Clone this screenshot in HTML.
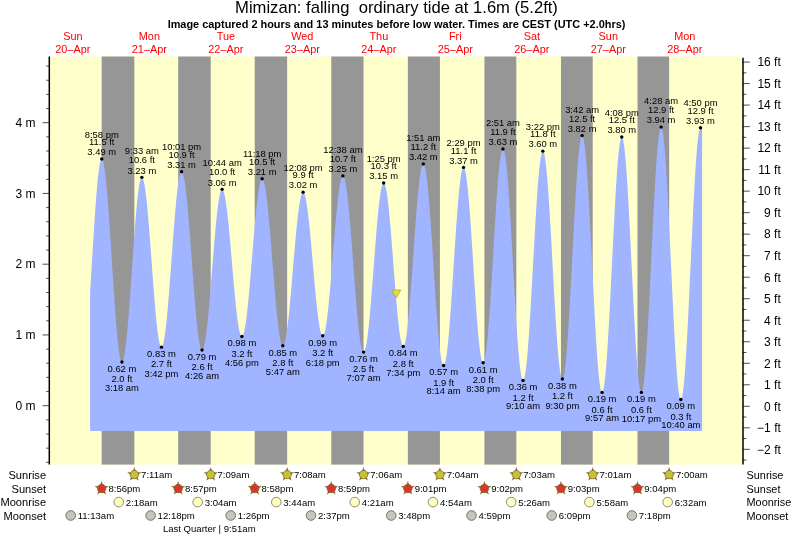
<!DOCTYPE html>
<html lang="en"><head><meta charset="utf-8"><title>Mimizan tide times</title>
<style>html,body{margin:0;padding:0;background:#fff}svg{display:block;will-change:transform}</style></head>
<body>
<svg width="793" height="537" viewBox="0 0 793 537" font-family="'Liberation Sans', Arial, Helvetica, sans-serif">
<rect width="793" height="537" fill="#fff"/>
<rect x="49.50" y="56.50" width="693.30" height="408.10" fill="#ffffcc"/>
<rect x="101.65" y="56.50" width="32.67" height="408.10" fill="#969696"/>
<rect x="178.19" y="56.50" width="32.51" height="408.10" fill="#969696"/>
<rect x="254.73" y="56.50" width="32.40" height="408.10" fill="#969696"/>
<rect x="331.28" y="56.50" width="32.24" height="408.10" fill="#969696"/>
<rect x="407.87" y="56.50" width="32.03" height="408.10" fill="#969696"/>
<rect x="484.41" y="56.50" width="31.92" height="408.10" fill="#969696"/>
<rect x="560.96" y="56.50" width="31.76" height="408.10" fill="#969696"/>
<rect x="637.50" y="56.50" width="31.66" height="408.10" fill="#969696"/>
<path d="M90.10 431.00 L90.10 291.64 L90.60 283.74 L91.10 275.69 L91.60 267.54 L92.10 259.34 L92.60 251.15 L93.10 243.02 L93.60 235.01 L94.10 227.16 L94.60 219.53 L95.10 212.16 L95.60 205.11 L96.10 198.42 L96.60 192.14 L97.10 186.30 L97.60 180.94 L98.10 176.11 L98.60 171.82 L99.10 168.12 L99.60 165.01 L100.10 162.53 L100.60 160.69 L101.10 159.50 L101.60 158.96 L101.75 158.93 L102.10 159.08 L102.60 159.81 L103.10 161.16 L103.60 163.10 L104.10 165.63 L104.60 168.74 L105.10 172.40 L105.60 176.60 L106.10 181.30 L106.60 186.48 L107.10 192.11 L107.60 198.16 L108.10 204.58 L108.60 211.34 L109.10 218.39 L109.60 225.70 L110.10 233.22 L110.60 240.91 L111.10 248.71 L111.60 256.59 L112.10 264.49 L112.60 272.36 L113.10 280.16 L113.60 287.85 L114.10 295.37 L114.60 302.67 L115.10 309.72 L115.60 316.47 L116.10 322.89 L116.60 328.92 L117.10 334.54 L117.60 339.72 L118.10 344.41 L118.60 348.59 L119.10 352.24 L119.60 355.34 L120.10 357.86 L120.60 359.79 L121.10 361.12 L121.60 361.85 L121.94 361.99 L122.10 361.95 L122.60 361.48 L123.10 360.44 L123.60 358.83 L124.10 356.67 L124.60 353.96 L125.10 350.74 L125.60 347.00 L126.10 342.79 L126.60 338.13 L127.10 333.03 L127.60 327.55 L128.10 321.70 L128.60 315.53 L129.10 309.08 L129.60 302.38 L130.10 295.47 L130.60 288.41 L131.10 281.23 L131.60 273.98 L132.10 266.70 L132.60 259.44 L133.10 252.24 L133.60 245.15 L134.10 238.22 L134.60 231.48 L135.10 224.97 L135.60 218.75 L136.10 212.84 L136.60 207.28 L137.10 202.11 L137.60 197.36 L138.10 193.06 L138.60 189.24 L139.10 185.92 L139.60 183.11 L140.10 180.85 L140.60 179.13 L141.10 177.98 L141.60 177.40 L141.86 177.33 L142.10 177.39 L142.60 177.93 L143.10 179.01 L143.60 180.62 L144.10 182.76 L144.60 185.40 L145.10 188.54 L145.60 192.16 L146.10 196.22 L146.60 200.70 L147.10 205.59 L147.60 210.83 L148.10 216.41 L148.60 222.27 L149.10 228.40 L149.60 234.74 L150.10 241.26 L150.60 247.91 L151.10 254.66 L151.60 261.45 L152.10 268.25 L152.60 275.01 L153.10 281.69 L153.60 288.24 L154.10 294.63 L154.60 300.81 L155.10 306.74 L155.60 312.38 L156.10 317.71 L156.60 322.67 L157.10 327.25 L157.60 331.41 L158.10 335.13 L158.60 338.38 L159.10 341.14 L159.60 343.39 L160.10 345.13 L160.60 346.33 L161.10 346.99 L161.46 347.13 L161.60 347.11 L162.10 346.69 L162.60 345.74 L163.10 344.26 L163.60 342.27 L164.10 339.77 L164.60 336.79 L165.10 333.33 L165.60 329.42 L166.10 325.09 L166.60 320.36 L167.10 315.26 L167.60 309.81 L168.10 304.06 L168.60 298.04 L169.10 291.79 L169.60 285.33 L170.10 278.72 L170.60 271.99 L171.10 265.19 L171.60 258.34 L172.10 251.51 L172.60 244.72 L173.10 238.03 L173.60 231.46 L174.10 225.06 L174.60 218.87 L175.10 212.93 L175.60 207.27 L176.10 201.93 L176.60 196.94 L177.10 192.33 L177.60 188.12 L178.10 184.35 L178.60 181.04 L179.10 178.20 L179.60 175.86 L180.10 174.03 L180.60 172.71 L181.10 171.92 L181.59 171.67 L181.60 171.67 L182.10 171.94 L182.60 172.74 L183.10 174.06 L183.60 175.89 L184.10 178.22 L184.60 181.04 L185.10 184.32 L185.60 188.06 L186.10 192.23 L186.60 196.80 L187.10 201.75 L187.60 207.05 L188.10 212.66 L188.60 218.56 L189.10 224.71 L189.60 231.07 L190.10 237.61 L190.60 244.28 L191.10 251.05 L191.60 257.88 L192.10 264.73 L192.60 271.55 L193.10 278.31 L193.60 284.96 L194.10 291.48 L194.60 297.81 L195.10 303.92 L195.60 309.78 L196.10 315.36 L196.60 320.61 L197.10 325.50 L197.60 330.02 L198.10 334.13 L198.60 337.80 L199.10 341.02 L199.60 343.77 L200.10 346.03 L200.60 347.79 L201.10 349.03 L201.60 349.75 L202.04 349.96 L202.10 349.95 L202.60 349.65 L203.10 348.85 L203.60 347.58 L204.10 345.82 L204.60 343.60 L205.10 340.92 L205.60 337.82 L206.10 334.29 L206.60 330.37 L207.10 326.07 L207.60 321.43 L208.10 316.48 L208.60 311.24 L209.10 305.74 L209.60 300.02 L210.10 294.12 L210.60 288.07 L211.10 281.91 L211.60 275.67 L212.10 269.39 L212.60 263.11 L213.10 256.88 L213.60 250.72 L214.10 244.68 L214.60 238.79 L215.10 233.09 L215.60 227.62 L216.10 222.40 L216.60 217.47 L217.10 212.86 L217.60 208.60 L218.10 204.71 L218.60 201.22 L219.10 198.14 L219.60 195.51 L220.10 193.32 L220.60 191.61 L221.10 190.37 L221.60 189.62 L222.10 189.36 L222.12 189.36 L222.60 189.57 L223.10 190.25 L223.60 191.39 L224.10 192.98 L224.60 195.01 L225.10 197.47 L225.60 200.34 L226.10 203.61 L226.60 207.26 L227.10 211.25 L227.60 215.58 L228.10 220.20 L228.60 225.09 L229.10 230.22 L229.60 235.56 L230.10 241.07 L230.60 246.72 L231.10 252.47 L231.60 258.28 L232.10 264.13 L232.60 269.97 L233.10 275.76 L233.60 281.47 L234.10 287.07 L234.60 292.51 L235.10 297.77 L235.60 302.81 L236.10 307.59 L236.60 312.09 L237.10 316.29 L237.60 320.14 L238.10 323.64 L238.60 326.75 L239.10 329.45 L239.60 331.74 L240.10 333.59 L240.60 335.00 L241.10 335.95 L241.60 336.44 L241.88 336.52 L242.10 336.47 L242.60 336.02 L243.10 335.11 L243.60 333.73 L244.10 331.89 L244.60 329.61 L245.10 326.90 L245.60 323.77 L246.10 320.25 L246.60 316.35 L247.10 312.11 L247.60 307.53 L248.10 302.66 L248.60 297.51 L249.10 292.13 L249.60 286.54 L250.10 280.78 L250.60 274.87 L251.10 268.87 L251.60 262.80 L252.10 256.69 L252.60 250.60 L253.10 244.54 L253.60 238.56 L254.10 232.70 L254.60 226.99 L255.10 221.46 L255.60 216.14 L256.10 211.08 L256.60 206.29 L257.10 201.82 L257.60 197.67 L258.10 193.89 L258.60 190.48 L259.10 187.48 L259.60 184.90 L260.10 182.76 L260.60 181.06 L261.10 179.82 L261.60 179.05 L262.10 178.75 L262.17 178.74 L262.60 178.92 L263.10 179.58 L263.60 180.71 L264.10 182.31 L264.60 184.38 L265.10 186.90 L265.60 189.85 L266.10 193.21 L266.60 196.98 L267.10 201.13 L267.60 205.62 L268.10 210.45 L268.60 215.57 L269.10 220.96 L269.60 226.59 L270.10 232.43 L270.60 238.44 L271.10 244.58 L271.60 250.83 L272.10 257.15 L272.60 263.49 L273.10 269.83 L273.60 276.12 L274.10 282.33 L274.60 288.43 L275.10 294.37 L275.60 300.13 L276.10 305.67 L276.60 310.96 L277.10 315.97 L277.60 320.66 L278.10 325.02 L278.60 329.02 L279.10 332.63 L279.60 335.83 L280.10 338.61 L280.60 340.95 L281.10 342.83 L281.60 344.25 L282.10 345.20 L282.60 345.66 L282.83 345.71 L283.10 345.65 L283.60 345.17 L284.10 344.23 L284.60 342.84 L285.10 341.00 L285.60 338.73 L286.10 336.04 L286.60 332.95 L287.10 329.47 L287.60 325.63 L288.10 321.44 L288.60 316.94 L289.10 312.15 L289.60 307.10 L290.10 301.82 L290.60 296.35 L291.10 290.70 L291.60 284.93 L292.10 279.06 L292.60 273.13 L293.10 267.17 L293.60 261.23 L294.10 255.33 L294.60 249.51 L295.10 243.81 L295.60 238.26 L296.10 232.90 L296.60 227.75 L297.10 222.86 L297.60 218.23 L298.10 213.92 L298.60 209.94 L299.10 206.31 L299.60 203.05 L300.10 200.20 L300.60 197.76 L301.10 195.75 L301.60 194.17 L302.10 193.05 L302.60 192.39 L303.07 192.19 L303.10 192.19 L303.60 192.44 L304.10 193.16 L304.60 194.32 L305.10 195.93 L305.60 197.98 L306.10 200.44 L306.60 203.32 L307.10 206.58 L307.60 210.20 L308.10 214.17 L308.60 218.46 L309.10 223.04 L309.60 227.88 L310.10 232.95 L310.60 238.22 L311.10 243.65 L311.60 249.22 L312.10 254.87 L312.60 260.59 L313.10 266.33 L313.60 272.05 L314.10 277.72 L314.60 283.31 L315.10 288.77 L315.60 294.07 L316.10 299.18 L316.60 304.07 L317.10 308.70 L317.60 313.04 L318.10 317.07 L318.60 320.76 L319.10 324.09 L319.60 327.04 L320.10 329.58 L320.60 331.71 L321.10 333.40 L321.60 334.65 L322.10 335.45 L322.60 335.79 L322.72 335.81 L323.10 335.67 L323.60 335.06 L324.10 333.98 L324.60 332.42 L325.10 330.40 L325.60 327.93 L326.10 325.02 L326.60 321.69 L327.10 317.97 L327.60 313.87 L328.10 309.41 L328.60 304.64 L329.10 299.56 L329.60 294.23 L330.10 288.66 L330.60 282.89 L331.10 276.96 L331.60 270.90 L332.10 264.75 L332.60 258.55 L333.10 252.33 L333.60 246.13 L334.10 239.99 L334.60 233.95 L335.10 228.04 L335.60 222.29 L336.10 216.75 L336.60 211.45 L337.10 206.42 L337.60 201.68 L338.10 197.28 L338.60 193.22 L339.10 189.55 L339.60 186.28 L340.10 183.43 L340.60 181.02 L341.10 179.06 L341.60 177.56 L342.10 176.54 L342.60 176.00 L342.91 175.91 L343.10 175.95 L343.60 176.40 L344.10 177.35 L344.60 178.81 L345.10 180.76 L345.60 183.19 L346.10 186.08 L346.60 189.43 L347.10 193.20 L347.60 197.39 L348.10 201.96 L348.60 206.88 L349.10 212.14 L349.60 217.70 L350.10 223.52 L350.60 229.58 L351.10 235.84 L351.60 242.26 L352.10 248.81 L352.60 255.44 L353.10 262.12 L353.60 268.82 L354.10 275.48 L354.60 282.08 L355.10 288.58 L355.60 294.93 L356.10 301.10 L356.60 307.06 L357.10 312.77 L357.60 318.20 L358.10 323.32 L358.60 328.09 L359.10 332.50 L359.60 336.50 L360.10 340.09 L360.60 343.24 L361.10 345.93 L361.60 348.15 L362.10 349.88 L362.60 351.12 L363.10 351.85 L363.57 352.08 L363.60 352.08 L364.10 351.79 L364.60 350.99 L365.10 349.67 L365.60 347.86 L366.10 345.55 L366.60 342.76 L367.10 339.52 L367.60 335.83 L368.10 331.73 L368.60 327.23 L369.10 322.37 L369.60 317.18 L370.10 311.67 L370.60 305.90 L371.10 299.90 L371.60 293.70 L372.10 287.33 L372.60 280.85 L373.10 274.28 L373.60 267.68 L374.10 261.07 L374.60 254.50 L375.10 248.01 L375.60 241.64 L376.10 235.43 L376.60 229.42 L377.10 223.63 L377.60 218.12 L378.10 212.91 L378.60 208.04 L379.10 203.52 L379.60 199.40 L380.10 195.70 L380.60 192.43 L381.10 189.63 L381.60 187.30 L382.10 185.46 L382.60 184.13 L383.10 183.30 L383.60 182.99 L383.65 182.99 L384.10 183.20 L384.60 183.93 L385.10 185.18 L385.60 186.95 L386.10 189.21 L386.60 191.95 L387.10 195.17 L387.60 198.82 L388.10 202.91 L388.60 207.38 L389.10 212.23 L389.60 217.41 L390.10 222.90 L390.60 228.66 L391.10 234.64 L391.60 240.82 L392.10 247.16 L392.60 253.60 L393.10 260.12 L393.60 266.66 L394.10 273.20 L394.60 279.68 L395.10 286.06 L395.60 292.31 L396.10 298.37 L396.60 304.23 L397.10 309.83 L397.60 315.13 L398.10 320.12 L398.60 324.75 L399.10 328.99 L399.60 332.83 L400.10 336.22 L400.60 339.16 L401.10 341.61 L401.60 343.58 L402.10 345.03 L402.60 345.98 L403.10 346.40 L403.25 346.42 L403.60 346.28 L404.10 345.61 L404.60 344.38 L405.10 342.61 L405.60 340.29 L406.10 337.45 L406.60 334.11 L407.10 330.28 L407.60 325.99 L408.10 321.26 L408.60 316.12 L409.10 310.61 L409.60 304.76 L410.10 298.61 L410.60 292.19 L411.10 285.54 L411.60 278.70 L412.10 271.72 L412.60 264.63 L413.10 257.49 L413.60 250.33 L414.10 243.21 L414.60 236.15 L415.10 229.22 L415.60 222.44 L416.10 215.86 L416.60 209.53 L417.10 203.48 L417.60 197.74 L418.10 192.36 L418.60 187.36 L419.10 182.78 L419.60 178.65 L420.10 174.98 L420.60 171.81 L421.10 169.15 L421.60 167.02 L422.10 165.43 L422.60 164.40 L423.10 163.92 L423.28 163.89 L423.60 164.01 L424.10 164.70 L424.60 165.98 L425.10 167.86 L425.60 170.31 L426.10 173.32 L426.60 176.88 L427.10 180.96 L427.60 185.54 L428.10 190.59 L428.60 196.08 L429.10 201.98 L429.60 208.26 L430.10 214.87 L430.60 221.78 L431.10 228.94 L431.60 236.32 L432.10 243.87 L432.60 251.54 L433.10 259.29 L433.60 267.07 L434.10 274.83 L434.60 282.54 L435.10 290.14 L435.60 297.59 L436.10 304.84 L436.60 311.86 L437.10 318.59 L437.60 325.00 L438.10 331.06 L438.60 336.71 L439.10 341.94 L439.60 346.71 L440.10 350.99 L440.60 354.75 L441.10 357.98 L441.60 360.66 L442.10 362.76 L442.60 364.27 L443.10 365.20 L443.60 365.52 L443.62 365.52 L444.10 365.24 L444.60 364.34 L445.10 362.84 L445.60 360.73 L446.10 358.04 L446.60 354.78 L447.10 350.98 L447.60 346.64 L448.10 341.81 L448.60 336.51 L449.10 330.78 L449.60 324.64 L450.10 318.15 L450.60 311.33 L451.10 304.23 L451.60 296.90 L452.10 289.38 L452.60 281.72 L453.10 273.96 L453.60 266.16 L454.10 258.36 L454.60 250.61 L455.10 242.95 L455.60 235.45 L456.10 228.13 L456.60 221.06 L457.10 214.26 L457.60 207.80 L458.10 201.69 L458.60 195.99 L459.10 190.73 L459.60 185.93 L460.10 181.64 L460.60 177.88 L461.10 174.66 L461.60 172.02 L462.10 169.96 L462.60 168.51 L463.10 167.66 L463.54 167.42 L463.60 167.43 L464.10 167.82 L464.60 168.83 L465.10 170.46 L465.60 172.70 L466.10 175.53 L466.60 178.94 L467.10 182.89 L467.60 187.38 L468.10 192.36 L468.60 197.82 L469.10 203.70 L469.60 209.97 L470.10 216.60 L470.60 223.55 L471.10 230.75 L471.60 238.18 L472.10 245.78 L472.60 253.51 L473.10 261.30 L473.60 269.13 L474.10 276.92 L474.60 284.64 L475.10 292.24 L475.60 299.66 L476.10 306.86 L476.60 313.79 L477.10 320.40 L477.60 326.66 L478.10 332.53 L478.60 337.96 L479.10 342.93 L479.60 347.39 L480.10 351.33 L480.60 354.71 L481.10 357.52 L481.60 359.73 L482.10 361.34 L482.60 362.33 L483.10 362.69 L483.14 362.69 L483.60 362.41 L484.10 361.46 L484.60 359.84 L485.10 357.58 L485.60 354.67 L486.10 351.14 L486.60 347.02 L487.10 342.32 L487.60 337.08 L488.10 331.32 L488.60 325.10 L489.10 318.44 L489.60 311.38 L490.10 303.98 L490.60 296.27 L491.10 288.31 L491.60 280.15 L492.10 271.84 L492.60 263.42 L493.10 254.96 L493.60 246.50 L494.10 238.10 L494.60 229.81 L495.10 221.69 L495.60 213.78 L496.10 206.13 L496.60 198.80 L497.10 191.83 L497.60 185.26 L498.10 179.13 L498.60 173.48 L499.10 168.35 L499.60 163.78 L500.10 159.78 L500.60 156.38 L501.10 153.61 L501.60 151.48 L502.10 150.00 L502.60 149.19 L502.95 149.03 L503.10 149.06 L503.60 149.62 L504.10 150.87 L504.60 152.83 L505.10 155.46 L505.60 158.76 L506.10 162.70 L506.60 167.26 L507.10 172.41 L507.60 178.13 L508.10 184.37 L508.60 191.11 L509.10 198.29 L509.60 205.87 L510.10 213.81 L510.60 222.07 L511.10 230.58 L511.60 239.30 L512.10 248.17 L512.60 257.14 L513.10 266.16 L513.60 275.18 L514.10 284.12 L514.60 292.95 L515.10 301.61 L515.60 310.04 L516.10 318.20 L516.60 326.03 L517.10 333.49 L517.60 340.53 L518.10 347.11 L518.60 353.19 L519.10 358.73 L519.60 363.69 L520.10 368.06 L520.60 371.79 L521.10 374.87 L521.60 377.29 L522.10 379.02 L522.60 380.05 L523.08 380.38 L523.10 380.38 L523.60 380.00 L524.10 378.89 L524.60 377.07 L525.10 374.55 L525.60 371.34 L526.10 367.46 L526.60 362.94 L527.10 357.81 L527.60 352.10 L528.10 345.84 L528.60 339.07 L529.10 331.84 L529.60 324.20 L530.10 316.18 L530.60 307.85 L531.10 299.25 L531.60 290.44 L532.10 281.48 L532.60 272.41 L533.10 263.30 L533.60 254.21 L534.10 245.19 L534.60 236.30 L535.10 227.60 L535.60 219.14 L536.10 210.97 L536.60 203.15 L537.10 195.73 L537.60 188.74 L538.10 182.25 L538.60 176.28 L539.10 170.87 L539.60 166.07 L540.10 161.89 L540.60 158.37 L541.10 155.53 L541.60 153.39 L542.10 151.95 L542.60 151.24 L542.84 151.15 L543.10 151.25 L543.60 151.99 L544.10 153.46 L544.60 155.65 L545.10 158.55 L545.60 162.14 L546.10 166.39 L546.60 171.27 L547.10 176.76 L547.60 182.83 L548.10 189.42 L548.60 196.50 L549.10 204.02 L549.60 211.94 L550.10 220.20 L550.60 228.75 L551.10 237.53 L551.60 246.49 L552.10 255.58 L552.60 264.72 L553.10 273.86 L553.60 282.95 L554.10 291.92 L554.60 300.72 L555.10 309.29 L555.60 317.57 L556.10 325.52 L556.60 333.07 L557.10 340.19 L557.60 346.82 L558.10 352.92 L558.60 358.46 L559.10 363.39 L559.60 367.69 L560.10 371.32 L560.60 374.27 L561.10 376.52 L561.60 378.04 L562.10 378.84 L562.39 378.97 L562.60 378.90 L563.10 378.20 L563.60 376.73 L564.10 374.51 L564.60 371.55 L565.10 367.86 L565.60 363.48 L566.10 358.43 L566.60 352.74 L567.10 346.44 L567.60 339.58 L568.10 332.21 L568.60 324.35 L569.10 316.08 L569.60 307.43 L570.10 298.47 L570.60 289.25 L571.10 279.82 L571.60 270.26 L572.10 260.61 L572.60 250.94 L573.10 241.31 L573.60 231.78 L574.10 222.41 L574.60 213.26 L575.10 204.39 L575.60 195.85 L576.10 187.71 L576.60 180.00 L577.10 172.78 L577.60 166.09 L578.10 159.98 L578.60 154.48 L579.10 149.63 L579.60 145.47 L580.10 142.01 L580.60 139.27 L581.10 137.28 L581.60 136.05 L582.10 135.59 L582.15 135.59 L582.60 135.91 L583.10 137.02 L583.60 138.92 L584.10 141.60 L584.60 145.04 L585.10 149.21 L585.60 154.11 L586.10 159.68 L586.60 165.91 L587.10 172.74 L587.60 180.14 L588.10 188.06 L588.60 196.45 L589.10 205.27 L589.60 214.45 L590.10 223.93 L590.60 233.67 L591.10 243.59 L591.60 253.64 L592.10 263.76 L592.60 273.87 L593.10 283.93 L593.60 293.86 L594.10 303.60 L594.60 313.10 L595.10 322.30 L595.60 331.13 L596.10 339.54 L596.60 347.49 L597.10 354.92 L597.60 361.78 L598.10 368.03 L598.60 373.64 L599.10 378.56 L599.60 382.78 L600.10 386.25 L600.60 388.96 L601.10 390.90 L601.60 392.05 L602.07 392.41 L602.10 392.41 L602.60 391.95 L603.10 390.69 L603.60 388.63 L604.10 385.79 L604.60 382.17 L605.10 377.81 L605.60 372.73 L606.10 366.97 L606.60 360.55 L607.10 353.53 L607.60 345.94 L608.10 337.83 L608.60 329.27 L609.10 320.29 L609.60 310.96 L610.10 301.33 L610.60 291.48 L611.10 281.45 L611.60 271.31 L612.10 261.14 L612.60 250.99 L613.10 240.92 L613.60 231.01 L614.10 221.30 L614.60 211.88 L615.10 202.79 L615.60 194.09 L616.10 185.84 L616.60 178.10 L617.10 170.90 L617.60 164.30 L618.10 158.33 L618.60 153.04 L619.10 148.46 L619.60 144.62 L620.10 141.54 L620.60 139.25 L621.10 137.75 L621.60 137.05 L621.78 137.00 L622.10 137.17 L622.60 138.11 L623.10 139.85 L623.60 142.41 L624.10 145.74 L624.60 149.84 L625.10 154.68 L625.60 160.22 L626.10 166.43 L626.60 173.28 L627.10 180.71 L627.60 188.68 L628.10 197.14 L628.60 206.03 L629.10 215.30 L629.60 224.88 L630.10 234.72 L630.60 244.76 L631.10 254.92 L631.60 265.14 L632.10 275.36 L632.60 285.52 L633.10 295.54 L633.60 305.36 L634.10 314.92 L634.60 324.16 L635.10 333.02 L635.60 341.43 L636.10 349.36 L636.60 356.74 L637.10 363.53 L637.60 369.69 L638.10 375.17 L638.60 379.95 L639.10 383.98 L639.60 387.25 L640.10 389.73 L640.60 391.41 L641.10 392.28 L641.38 392.41 L641.60 392.33 L642.10 391.53 L642.60 389.90 L643.10 387.45 L643.60 384.18 L644.10 380.12 L644.60 375.30 L645.10 369.74 L645.60 363.49 L646.10 356.58 L646.60 349.05 L647.10 340.95 L647.60 332.34 L648.10 323.27 L648.60 313.80 L649.10 303.98 L649.60 293.88 L650.10 283.57 L650.60 273.10 L651.10 262.55 L651.60 251.98 L652.10 241.46 L652.60 231.06 L653.10 220.83 L653.60 210.86 L654.10 201.20 L654.60 191.90 L655.10 183.04 L655.60 174.67 L656.10 166.83 L656.60 159.59 L657.10 152.98 L657.60 147.05 L658.10 141.84 L658.60 137.37 L659.10 133.69 L659.60 130.80 L660.10 128.73 L660.60 127.49 L661.09 127.10 L661.10 127.10 L661.60 127.55 L662.10 128.86 L662.60 131.02 L663.10 134.02 L663.60 137.83 L664.10 142.44 L664.60 147.81 L665.10 153.91 L665.60 160.69 L666.10 168.13 L666.60 176.17 L667.10 184.76 L667.60 193.84 L668.10 203.36 L668.60 213.27 L669.10 223.48 L669.60 233.95 L670.10 244.60 L670.60 255.38 L671.10 266.20 L671.60 277.00 L672.10 287.72 L672.60 298.28 L673.10 308.62 L673.60 318.68 L674.10 328.38 L674.60 337.68 L675.10 346.50 L675.60 354.80 L676.10 362.52 L676.60 369.62 L677.10 376.04 L677.60 381.75 L678.10 386.71 L678.60 390.89 L679.10 394.27 L679.60 396.82 L680.10 398.53 L680.60 399.38 L680.85 399.48 L681.10 399.37 L681.60 398.50 L682.10 396.76 L682.60 394.18 L683.10 390.76 L683.60 386.53 L684.10 381.51 L684.60 375.75 L685.10 369.26 L685.60 362.11 L686.10 354.32 L686.60 345.96 L687.10 337.06 L687.60 327.71 L688.10 317.94 L688.60 307.82 L689.10 297.43 L689.60 286.81 L690.10 276.05 L690.60 265.21 L691.10 254.36 L691.60 243.57 L692.10 232.91 L692.60 222.45 L693.10 212.24 L693.60 202.37 L694.10 192.88 L694.60 183.85 L695.10 175.33 L695.60 167.37 L696.10 160.03 L696.60 153.34 L697.10 147.37 L697.60 142.13 L698.10 137.67 L698.60 134.01 L699.10 131.19 L699.60 129.20 L700.10 128.08 L700.50 127.80 L700.60 127.80 L701.10 127.80 L701.60 127.80 L702.10 127.80 L702.10 431.00 Z" fill="#a0b4ff"/>
<g stroke="#000" fill="none">
<path d="M49.30 56.50 V464.60 M743.00 57.70 V464.60" stroke-width="1.5"/>
<path d="M49.50 462.30 h-3.30 M49.50 448.15 h-3.30 M49.50 434.00 h-3.30 M49.50 419.85 h-3.30 M49.50 405.70 h-7.00 M49.50 391.55 h-3.30 M49.50 377.40 h-3.30 M49.50 363.25 h-3.30 M49.50 349.10 h-3.30 M49.50 334.95 h-7.00 M49.50 320.80 h-3.30 M49.50 306.65 h-3.30 M49.50 292.50 h-3.30 M49.50 278.35 h-3.30 M49.50 264.20 h-7.00 M49.50 250.05 h-3.30 M49.50 235.90 h-3.30 M49.50 221.75 h-3.30 M49.50 207.60 h-3.30 M49.50 193.45 h-7.00 M49.50 179.30 h-3.30 M49.50 165.15 h-3.30 M49.50 151.00 h-3.30 M49.50 136.85 h-3.30 M49.50 122.70 h-7.00 M49.50 108.55 h-3.30 M49.50 94.40 h-3.30 M49.50 80.25 h-3.30 M49.50 66.10 h-3.30 M742.80 460.09 h3.60 M742.80 449.33 h7.00 M742.80 438.57 h3.60 M742.80 427.81 h7.00 M742.80 417.06 h3.60 M742.80 406.30 h7.00 M742.80 395.54 h3.60 M742.80 384.79 h7.00 M742.80 374.03 h3.60 M742.80 363.27 h7.00 M742.80 352.51 h3.60 M742.80 341.75 h7.00 M742.80 331.00 h3.60 M742.80 320.24 h7.00 M742.80 309.48 h3.60 M742.80 298.73 h7.00 M742.80 287.97 h3.60 M742.80 277.21 h7.00 M742.80 266.45 h3.60 M742.80 255.69 h7.00 M742.80 244.94 h3.60 M742.80 234.18 h7.00 M742.80 223.42 h3.60 M742.80 212.67 h7.00 M742.80 201.91 h3.60 M742.80 191.15 h7.00 M742.80 180.39 h3.60 M742.80 169.63 h7.00 M742.80 158.88 h3.60 M742.80 148.12 h7.00 M742.80 137.36 h3.60 M742.80 126.61 h7.00 M742.80 115.85 h3.60 M742.80 105.09 h7.00 M742.80 94.33 h3.60 M742.80 83.57 h7.00 M742.80 72.82 h3.60 M742.80 62.06 h7.00" stroke-width="0.7"/>
</g>
<g font-size="12" fill="#000">
<text x="35.4" y="409.90" text-anchor="end">0 m</text>
<text x="35.4" y="339.15" text-anchor="end">1 m</text>
<text x="35.4" y="268.40" text-anchor="end">2 m</text>
<text x="35.4" y="197.65" text-anchor="end">3 m</text>
<text x="35.4" y="126.90" text-anchor="end">4 m</text>
<text x="780.8" y="453.63" text-anchor="end">−2 ft</text>
<text x="780.8" y="432.12" text-anchor="end">−1 ft</text>
<text x="780.8" y="410.60" text-anchor="end">0 ft</text>
<text x="780.8" y="389.09" text-anchor="end">1 ft</text>
<text x="780.8" y="367.57" text-anchor="end">2 ft</text>
<text x="780.8" y="346.06" text-anchor="end">3 ft</text>
<text x="780.8" y="324.54" text-anchor="end">4 ft</text>
<text x="780.8" y="303.03" text-anchor="end">5 ft</text>
<text x="780.8" y="281.51" text-anchor="end">6 ft</text>
<text x="780.8" y="260.00" text-anchor="end">7 ft</text>
<text x="780.8" y="238.48" text-anchor="end">8 ft</text>
<text x="780.8" y="216.97" text-anchor="end">9 ft</text>
<text x="780.8" y="195.45" text-anchor="end">10 ft</text>
<text x="780.8" y="173.94" text-anchor="end">11 ft</text>
<text x="780.8" y="152.42" text-anchor="end">12 ft</text>
<text x="780.8" y="130.91" text-anchor="end">13 ft</text>
<text x="780.8" y="109.39" text-anchor="end">14 ft</text>
<text x="780.8" y="87.87" text-anchor="end">15 ft</text>
<text x="780.8" y="66.36" text-anchor="end">16 ft</text>
</g>
<text x="396.5" y="13.3" font-size="16.6" text-anchor="middle" xml:space="preserve" style="white-space:pre">Mimizan: falling  ordinary tide at 1.6m (5.2ft)</text>
<text x="396.5" y="27.9" font-size="10.93" font-weight="bold" text-anchor="middle">Image captured 2 hours and 13 minutes before low water. Times are CEST (UTC +2.0hrs)</text>
<g font-size="10.9" fill="#ff0000" text-anchor="middle">
<text x="72.88" y="40">Sun</text>
<text x="72.88" y="52.6">20–Apr</text>
<text x="149.36" y="40">Mon</text>
<text x="149.36" y="52.6">21–Apr</text>
<text x="225.85" y="40">Tue</text>
<text x="225.85" y="52.6">22–Apr</text>
<text x="302.34" y="40">Wed</text>
<text x="302.34" y="52.6">23–Apr</text>
<text x="378.83" y="40">Thu</text>
<text x="378.83" y="52.6">24–Apr</text>
<text x="455.32" y="40">Fri</text>
<text x="455.32" y="52.6">25–Apr</text>
<text x="531.81" y="40">Sat</text>
<text x="531.81" y="52.6">26–Apr</text>
<text x="608.30" y="40">Sun</text>
<text x="608.30" y="52.6">27–Apr</text>
<text x="684.79" y="40">Mon</text>
<text x="684.79" y="52.6">28–Apr</text>
</g>
<g font-size="9.42" fill="#000" text-anchor="middle">
<circle cx="101.75" cy="158.93" r="1.7"/>
<text x="101.75" y="137.53">8:58 pm</text>
<text x="101.75" y="145.03">11.5 ft</text>
<text x="101.75" y="155.23">3.49 m</text>
<circle cx="121.94" cy="361.99" r="1.7"/>
<text x="121.94" y="371.88">0.62 m</text>
<text x="121.94" y="382.19">2.0 ft</text>
<text x="121.94" y="390.79">3:18 am</text>
<circle cx="141.86" cy="177.33" r="1.7"/>
<text x="141.86" y="154.43">9:33 am</text>
<text x="141.86" y="163.43">10.6 ft</text>
<text x="141.86" y="173.63">3.23 m</text>
<circle cx="161.46" cy="347.13" r="1.7"/>
<text x="161.46" y="357.03">0.83 m</text>
<text x="161.46" y="367.33">2.7 ft</text>
<text x="161.46" y="376.93">3:42 pm</text>
<circle cx="181.59" cy="171.67" r="1.7"/>
<text x="181.59" y="150.27">10:01 pm</text>
<text x="181.59" y="157.77">10.9 ft</text>
<text x="181.59" y="167.97">3.31 m</text>
<circle cx="202.04" cy="349.96" r="1.7"/>
<text x="202.04" y="359.86">0.79 m</text>
<text x="202.04" y="370.16">2.6 ft</text>
<text x="202.04" y="378.76">4:26 am</text>
<circle cx="222.12" cy="189.36" r="1.7"/>
<text x="222.12" y="166.46">10:44 am</text>
<text x="222.12" y="175.46">10.0 ft</text>
<text x="222.12" y="185.66">3.06 m</text>
<circle cx="241.88" cy="336.52" r="1.7"/>
<text x="241.88" y="346.42">0.98 m</text>
<text x="241.88" y="356.72">3.2 ft</text>
<text x="241.88" y="366.32">4:56 pm</text>
<circle cx="262.17" cy="178.74" r="1.7"/>
<text x="262.17" y="157.34">11:18 pm</text>
<text x="262.17" y="164.84">10.5 ft</text>
<text x="262.17" y="175.04">3.21 m</text>
<circle cx="282.83" cy="345.71" r="1.7"/>
<text x="282.83" y="355.61">0.85 m</text>
<text x="282.83" y="365.91">2.8 ft</text>
<text x="282.83" y="374.51">5:47 am</text>
<circle cx="303.07" cy="192.19" r="1.7"/>
<text x="303.07" y="170.79">12:08 pm</text>
<text x="303.07" y="178.29">9.9 ft</text>
<text x="303.07" y="188.49">3.02 m</text>
<circle cx="322.72" cy="335.81" r="1.7"/>
<text x="322.72" y="345.71">0.99 m</text>
<text x="322.72" y="356.01">3.2 ft</text>
<text x="322.72" y="365.61">6:18 pm</text>
<circle cx="342.91" cy="175.91" r="1.7"/>
<text x="342.91" y="153.01">12:38 am</text>
<text x="342.91" y="162.01">10.7 ft</text>
<text x="342.91" y="172.21">3.25 m</text>
<circle cx="363.57" cy="352.08" r="1.7"/>
<text x="363.57" y="361.98">0.76 m</text>
<text x="363.57" y="372.28">2.5 ft</text>
<text x="363.57" y="380.88">7:07 am</text>
<circle cx="383.65" cy="182.99" r="1.7"/>
<text x="383.65" y="161.59">1:25 pm</text>
<text x="383.65" y="169.09">10.3 ft</text>
<text x="383.65" y="179.29">3.15 m</text>
<circle cx="403.25" cy="346.42" r="1.7"/>
<text x="403.25" y="356.32">0.84 m</text>
<text x="403.25" y="366.62">2.8 ft</text>
<text x="403.25" y="376.22">7:34 pm</text>
<circle cx="423.28" cy="163.89" r="1.7"/>
<text x="423.28" y="140.99">1:51 am</text>
<text x="423.28" y="149.99">11.2 ft</text>
<text x="423.28" y="160.19">3.42 m</text>
<circle cx="443.62" cy="365.52" r="1.7"/>
<text x="443.62" y="375.42">0.57 m</text>
<text x="443.62" y="385.72">1.9 ft</text>
<text x="443.62" y="394.32">8:14 am</text>
<circle cx="463.54" cy="167.42" r="1.7"/>
<text x="463.54" y="146.02">2:29 pm</text>
<text x="463.54" y="153.52">11.1 ft</text>
<text x="463.54" y="163.72">3.37 m</text>
<circle cx="483.14" cy="362.69" r="1.7"/>
<text x="483.14" y="372.59">0.61 m</text>
<text x="483.14" y="382.89">2.0 ft</text>
<text x="483.14" y="392.49">8:38 pm</text>
<circle cx="502.95" cy="149.03" r="1.7"/>
<text x="502.95" y="126.13">2:51 am</text>
<text x="502.95" y="135.13">11.9 ft</text>
<text x="502.95" y="145.33">3.63 m</text>
<circle cx="523.08" cy="380.38" r="1.7"/>
<text x="523.08" y="390.28">0.36 m</text>
<text x="523.08" y="400.58">1.2 ft</text>
<text x="523.08" y="409.18">9:10 am</text>
<circle cx="542.84" cy="151.15" r="1.7"/>
<text x="542.84" y="129.75">3:22 pm</text>
<text x="542.84" y="137.25">11.8 ft</text>
<text x="542.84" y="147.45">3.60 m</text>
<circle cx="562.39" cy="378.97" r="1.7"/>
<text x="562.39" y="388.87">0.38 m</text>
<text x="562.39" y="399.17">1.2 ft</text>
<text x="562.39" y="408.77">9:30 pm</text>
<circle cx="582.15" cy="135.59" r="1.7"/>
<text x="582.15" y="112.69">3:42 am</text>
<text x="582.15" y="121.69">12.5 ft</text>
<text x="582.15" y="131.89">3.82 m</text>
<circle cx="602.07" cy="392.41" r="1.7"/>
<text x="602.07" y="402.31">0.19 m</text>
<text x="602.07" y="412.61">0.6 ft</text>
<text x="602.07" y="421.21">9:57 am</text>
<circle cx="621.78" cy="137.00" r="1.7"/>
<text x="621.78" y="115.60">4:08 pm</text>
<text x="621.78" y="123.10">12.5 ft</text>
<text x="621.78" y="133.30">3.80 m</text>
<circle cx="641.38" cy="392.41" r="1.7"/>
<text x="641.38" y="402.31">0.19 m</text>
<text x="641.38" y="412.61">0.6 ft</text>
<text x="641.38" y="422.21">10:17 pm</text>
<circle cx="661.09" cy="127.10" r="1.7"/>
<text x="661.09" y="104.20">4:28 am</text>
<text x="661.09" y="113.20">12.9 ft</text>
<text x="661.09" y="123.40">3.94 m</text>
<circle cx="680.85" cy="399.48" r="1.7"/>
<text x="680.85" y="409.38">0.09 m</text>
<text x="680.85" y="419.68">0.3 ft</text>
<text x="680.85" y="428.28">10:40 am</text>
<circle cx="700.50" cy="127.80" r="1.7"/>
<text x="700.50" y="106.40">4:50 pm</text>
<text x="700.50" y="113.90">12.9 ft</text>
<text x="700.50" y="124.10">3.93 m</text>
</g>
<path d="M391.59 290.05 L400.79 290.05 L396.19 297.85 Z" fill="#e6e03c" stroke="#a8a432" stroke-width="0.8"/>
<g font-size="11.1" fill="#000" text-anchor="end">
<text x="46.1" y="478.80">Sunrise</text>
<text x="46.1" y="492.60">Sunset</text>
<text x="46.1" y="506.00">Moonrise</text>
<text x="46.1" y="519.60">Moonset</text>
</g>
<g font-size="10.9" fill="#000">
<text x="746.5" y="478.80">Sunrise</text>
<text x="746.5" y="492.60">Sunset</text>
<text x="746.5" y="506.00">Moonrise</text>
<text x="746.5" y="519.60">Moonset</text>
</g>
<g font-size="9.55" fill="#000">
<polygon points="134.31,467.60 135.88,472.44 140.97,472.44 136.85,475.43 138.43,480.26 134.31,477.27 130.20,480.26 131.77,475.43 127.66,472.44 132.74,472.44" fill="#86601a" stroke="#86601a" stroke-width="0.3"/><circle cx="134.31" cy="474.6" r="4.2" fill="#c4c23c" stroke="#786a1e" stroke-width="0.75"/>
<text x="141.11" y="477.7">7:11am</text>
<polygon points="210.70,467.60 212.27,472.44 217.36,472.44 213.24,475.43 214.81,480.26 210.70,477.27 206.58,480.26 208.16,475.43 204.04,472.44 209.13,472.44" fill="#86601a" stroke="#86601a" stroke-width="0.3"/><circle cx="210.70" cy="474.6" r="4.2" fill="#c4c23c" stroke="#786a1e" stroke-width="0.75"/>
<text x="217.50" y="477.7">7:09am</text>
<polygon points="287.13,467.60 288.70,472.44 293.79,472.44 289.67,475.43 291.25,480.26 287.13,477.27 283.02,480.26 284.60,475.43 280.48,472.44 285.57,472.44" fill="#86601a" stroke="#86601a" stroke-width="0.3"/><circle cx="287.13" cy="474.6" r="4.2" fill="#c4c23c" stroke="#786a1e" stroke-width="0.75"/>
<text x="293.93" y="477.7">7:08am</text>
<polygon points="363.52,467.60 365.09,472.44 370.18,472.44 366.06,475.43 367.63,480.26 363.52,477.27 359.40,480.26 360.98,475.43 356.86,472.44 361.95,472.44" fill="#86601a" stroke="#86601a" stroke-width="0.3"/><circle cx="363.52" cy="474.6" r="4.2" fill="#c4c23c" stroke="#786a1e" stroke-width="0.75"/>
<text x="370.32" y="477.7">7:06am</text>
<polygon points="439.90,467.60 441.47,472.44 446.56,472.44 442.44,475.43 444.02,480.26 439.90,477.27 435.79,480.26 437.36,475.43 433.24,472.44 438.33,472.44" fill="#86601a" stroke="#86601a" stroke-width="0.3"/><circle cx="439.90" cy="474.6" r="4.2" fill="#c4c23c" stroke="#786a1e" stroke-width="0.75"/>
<text x="446.70" y="477.7">7:04am</text>
<polygon points="516.34,467.60 517.91,472.44 523.00,472.44 518.88,475.43 520.45,480.26 516.34,477.27 512.22,480.26 513.80,475.43 509.68,472.44 514.77,472.44" fill="#86601a" stroke="#86601a" stroke-width="0.3"/><circle cx="516.34" cy="474.6" r="4.2" fill="#c4c23c" stroke="#786a1e" stroke-width="0.75"/>
<text x="523.14" y="477.7">7:03am</text>
<polygon points="592.72,467.60 594.29,472.44 599.38,472.44 595.26,475.43 596.84,480.26 592.72,477.27 588.61,480.26 590.18,475.43 586.07,472.44 591.15,472.44" fill="#86601a" stroke="#86601a" stroke-width="0.3"/><circle cx="592.72" cy="474.6" r="4.2" fill="#c4c23c" stroke="#786a1e" stroke-width="0.75"/>
<text x="599.52" y="477.7">7:01am</text>
<polygon points="669.16,467.60 670.73,472.44 675.82,472.44 671.70,475.43 673.27,480.26 669.16,477.27 665.05,480.26 666.62,475.43 662.50,472.44 667.59,472.44" fill="#86601a" stroke="#86601a" stroke-width="0.3"/><circle cx="669.16" cy="474.6" r="4.2" fill="#c4c23c" stroke="#786a1e" stroke-width="0.75"/>
<text x="675.96" y="477.7">7:00am</text>
<polygon points="101.65,481.50 103.22,486.34 108.30,486.34 104.19,489.33 105.76,494.16 101.65,491.17 97.53,494.16 99.11,489.33 94.99,486.34 100.08,486.34" fill="#86601a" stroke="#86601a" stroke-width="0.3"/><circle cx="101.65" cy="488.5" r="4.2" fill="#dc3232" stroke="#786a1e" stroke-width="0.75"/>
<text x="108.45" y="492.4">8:56pm</text>
<polygon points="178.19,481.50 179.76,486.34 184.85,486.34 180.73,489.33 182.30,494.16 178.19,491.17 174.07,494.16 175.65,489.33 171.53,486.34 176.62,486.34" fill="#86601a" stroke="#86601a" stroke-width="0.3"/><circle cx="178.19" cy="488.5" r="4.2" fill="#dc3232" stroke="#786a1e" stroke-width="0.75"/>
<text x="184.99" y="492.4">8:57pm</text>
<polygon points="254.73,481.50 256.30,486.34 261.39,486.34 257.27,489.33 258.85,494.16 254.73,491.17 250.62,494.16 252.19,489.33 248.08,486.34 253.16,486.34" fill="#86601a" stroke="#86601a" stroke-width="0.3"/><circle cx="254.73" cy="488.5" r="4.2" fill="#dc3232" stroke="#786a1e" stroke-width="0.75"/>
<text x="261.53" y="492.4">8:58pm</text>
<polygon points="331.28,481.50 332.85,486.34 337.93,486.34 333.81,489.33 335.39,494.16 331.28,491.17 327.16,494.16 328.74,489.33 324.62,486.34 329.71,486.34" fill="#86601a" stroke="#86601a" stroke-width="0.3"/><circle cx="331.28" cy="488.5" r="4.2" fill="#dc3232" stroke="#786a1e" stroke-width="0.75"/>
<text x="338.08" y="492.4">8:59pm</text>
<polygon points="407.87,481.50 409.44,486.34 414.53,486.34 410.41,489.33 411.99,494.16 407.87,491.17 403.76,494.16 405.33,489.33 401.21,486.34 406.30,486.34" fill="#86601a" stroke="#86601a" stroke-width="0.3"/><circle cx="407.87" cy="488.5" r="4.2" fill="#dc3232" stroke="#786a1e" stroke-width="0.75"/>
<text x="414.67" y="492.4">9:01pm</text>
<polygon points="484.41,481.50 485.98,486.34 491.07,486.34 486.95,489.33 488.53,494.16 484.41,491.17 480.30,494.16 481.88,489.33 477.76,486.34 482.85,486.34" fill="#86601a" stroke="#86601a" stroke-width="0.3"/><circle cx="484.41" cy="488.5" r="4.2" fill="#dc3232" stroke="#786a1e" stroke-width="0.75"/>
<text x="491.21" y="492.4">9:02pm</text>
<polygon points="560.96,481.50 562.53,486.34 567.62,486.34 563.50,489.33 565.07,494.16 560.96,491.17 556.84,494.16 558.42,489.33 554.30,486.34 559.39,486.34" fill="#86601a" stroke="#86601a" stroke-width="0.3"/><circle cx="560.96" cy="488.5" r="4.2" fill="#dc3232" stroke="#786a1e" stroke-width="0.75"/>
<text x="567.76" y="492.4">9:03pm</text>
<polygon points="637.50,481.50 639.07,486.34 644.16,486.34 640.04,489.33 641.62,494.16 637.50,491.17 633.39,494.16 634.96,489.33 630.84,486.34 635.93,486.34" fill="#86601a" stroke="#86601a" stroke-width="0.3"/><circle cx="637.50" cy="488.5" r="4.2" fill="#dc3232" stroke="#786a1e" stroke-width="0.75"/>
<text x="644.30" y="492.4">9:04pm</text>
<circle cx="118.75" cy="502.1" r="4.8" fill="#ffffc0" stroke="#80806a" stroke-width="0.9"/>
<text x="125.75" y="505.6">2:18am</text>
<circle cx="197.68" cy="502.1" r="4.8" fill="#ffffc0" stroke="#80806a" stroke-width="0.9"/>
<text x="204.68" y="505.6">3:04am</text>
<circle cx="276.30" cy="502.1" r="4.8" fill="#ffffc0" stroke="#80806a" stroke-width="0.9"/>
<text x="283.30" y="505.6">3:44am</text>
<circle cx="354.75" cy="502.1" r="4.8" fill="#ffffc0" stroke="#80806a" stroke-width="0.9"/>
<text x="361.75" y="505.6">4:21am</text>
<circle cx="433.00" cy="502.1" r="4.8" fill="#ffffc0" stroke="#80806a" stroke-width="0.9"/>
<text x="440.00" y="505.6">4:54am</text>
<circle cx="511.19" cy="502.1" r="4.8" fill="#ffffc0" stroke="#80806a" stroke-width="0.9"/>
<text x="518.19" y="505.6">5:26am</text>
<circle cx="589.38" cy="502.1" r="4.8" fill="#ffffc0" stroke="#80806a" stroke-width="0.9"/>
<text x="596.38" y="505.6">5:58am</text>
<circle cx="667.67" cy="502.1" r="4.8" fill="#ffffc0" stroke="#80806a" stroke-width="0.9"/>
<text x="674.67" y="505.6">6:32am</text>
<circle cx="70.68" cy="515.5" r="4.8" fill="#c8c4bc" stroke="#68685a" stroke-width="0.9"/>
<text x="77.68" y="519.3">11:13am</text>
<circle cx="150.62" cy="515.5" r="4.8" fill="#c8c4bc" stroke="#68685a" stroke-width="0.9"/>
<text x="157.62" y="519.3">12:18pm</text>
<circle cx="230.72" cy="515.5" r="4.8" fill="#c8c4bc" stroke="#68685a" stroke-width="0.9"/>
<text x="237.72" y="519.3">1:26pm</text>
<circle cx="310.98" cy="515.5" r="4.8" fill="#c8c4bc" stroke="#68685a" stroke-width="0.9"/>
<text x="317.98" y="519.3">2:37pm</text>
<circle cx="391.25" cy="515.5" r="4.8" fill="#c8c4bc" stroke="#68685a" stroke-width="0.9"/>
<text x="398.25" y="519.3">3:48pm</text>
<circle cx="471.51" cy="515.5" r="4.8" fill="#c8c4bc" stroke="#68685a" stroke-width="0.9"/>
<text x="478.51" y="519.3">4:59pm</text>
<circle cx="551.72" cy="515.5" r="4.8" fill="#c8c4bc" stroke="#68685a" stroke-width="0.9"/>
<text x="558.72" y="519.3">6:09pm</text>
<circle cx="631.87" cy="515.5" r="4.8" fill="#c8c4bc" stroke="#68685a" stroke-width="0.9"/>
<text x="638.87" y="519.3">7:18pm</text>
<text x="162.9" y="531.6">Last Quarter | 9:51am</text>
</g>
</svg>
</body></html>
